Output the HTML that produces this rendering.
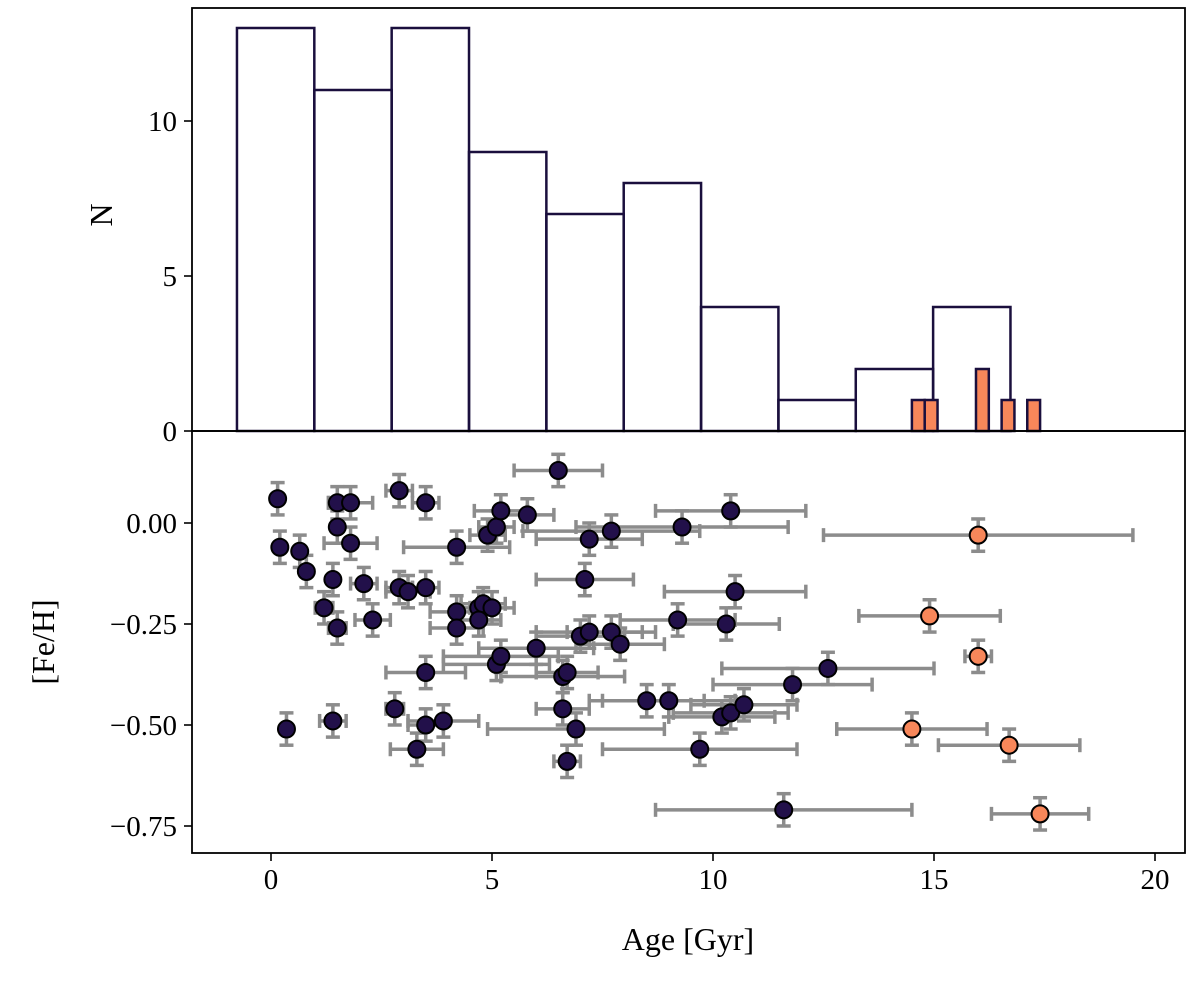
<!DOCTYPE html>
<html><head><meta charset="utf-8"><style>
body{margin:0;background:#fff}
svg text{font-family:"Liberation Serif",serif;fill:#000}
</style></head><body>
<svg id="c" width="1200" height="980" viewBox="0 0 1200 980"></svg>
<script>
const histCounts=[13,11,13,9,7,8,4,1,2,4];
const histStart=-0.77, histWidth=1.75;
const orangeCounts=[1,1,0,0,0,2,0,1,0,1];
const orangeStart=14.5, orangeWidth=0.29;
const ages=[0.15,0.2,0.65,0.8,1.2,1.4,1.5,1.5,1.8,1.8,1.5,2.1,2.3,2.9,2.9,3.1,3.5,3.5,3.5,0.35,1.4,2.8,3.5,3.9,3.3,4.2,4.2,4.2,4.7,4.8,4.7,5.0,4.9,5.1,5.2,5.8,5.1,5.2,6.0,6.5,6.6,6.6,6.7,6.9,6.7,7.0,7.2,7.1,7.2,7.7,7.7,7.9,8.5,9.0,9.2,9.3,9.7,10.4,10.5,10.3,10.2,10.4,10.7,11.8,11.6,12.6];
const feh=[0.06,-0.06,-0.07,-0.12,-0.21,-0.14,0.05,-0.01,0.05,-0.05,-0.26,-0.15,-0.24,0.08,-0.16,-0.17,0.05,-0.16,-0.37,-0.51,-0.49,-0.46,-0.50,-0.49,-0.56,-0.06,-0.22,-0.26,-0.21,-0.20,-0.24,-0.21,-0.03,-0.01,0.03,0.02,-0.35,-0.33,-0.31,0.13,-0.38,-0.46,-0.37,-0.51,-0.59,-0.28,-0.27,-0.14,-0.04,-0.02,-0.27,-0.30,-0.44,-0.44,-0.24,-0.01,-0.56,0.03,-0.17,-0.25,-0.48,-0.47,-0.45,-0.40,-0.71,-0.36];
const ageErr=[0.1,0,0.1,0.1,0.2,0.1,0.2,0,0.5,0.6,0.2,0.3,0.4,0.3,0.3,0.5,0.3,0.3,0.9,0,0.3,0.2,0.4,0.8,0.6,1.2,0.6,0.6,0.4,0.5,0.5,0.5,0.4,0.4,0.6,0.6,1.2,1.3,1.3,1.0,1.4,0.6,0.7,2.0,0.3,1.0,1.2,1.1,1.2,2.0,1.0,1.0,1.3,1.5,1.3,2.4,2.2,1.7,1.6,1.2,1.2,1.3,1.2,1.8,2.9,2.4];
const oAges=[16.0,14.9,16.0,14.5,16.7,17.4];
const oFeh=[-0.03,-0.23,-0.33,-0.51,-0.55,-0.72];
const oAgeErr=[3.5,1.6,0.3,1.7,1.6,1.1];
const fehErr=0.04;
const xTicks=[0,5,10,15,20];
const nTicks=[0,5,10];
const fTicks=[0,-0.25,-0.5,-0.75];
const fTickLabels=["0.00","\u22120.25","\u22120.50","\u22120.75"];

const L=192,R=1185,T=8,M=431,B=853;
const X=v=>271+v*44.2;
const YN=v=>431-v*31;
const YF=v=>523+(-v)*404;
const svg=document.getElementById('c');
const NS='http://www.w3.org/2000/svg';
function mk(tag,attrs,parent){const e=document.createElementNS(NS,tag);for(const k in attrs)e.setAttribute(k,attrs[k]);(parent||svg).appendChild(e);return e;}

// top histogram
const gh=mk('g',{});


histCounts.forEach((c,i)=>{const x0=X(histStart+i*histWidth);
 const r=mk('rect',{x:x0,y:YN(c),width:histWidth*44.2,height:YN(0)-YN(c),fill:'none',stroke:'#1a0f3d','stroke-width':2.5},gh);
 
 });
orangeCounts.forEach((c,i)=>{if(!c)return;const x0=X(orangeStart+i*orangeWidth);
 const r=mk('rect',{x:x0,y:YN(c),width:orangeWidth*44.2,height:YN(0)-YN(c),fill:'#f8875a',stroke:'#1a0f3d','stroke-width':2.5},gh);
 
 });

// frames
const f1=mk('rect',{x:L,y:T,width:R-L,height:M-T,fill:'none',stroke:'#000','stroke-width':1.8});

const f2=mk('rect',{x:L,y:M,width:R-L,height:B-M,fill:'none',stroke:'#000','stroke-width':1.8});


// ticks
nTicks.forEach(v=>{mk('line',{x1:L-8,x2:L,y1:YN(v),y2:YN(v),stroke:'#000','stroke-width':1.6});
 const t=mk('text',{x:L-15,y:YN(v)+10,'text-anchor':'end','font-size':29});t.textContent=v;
 });
fTicks.forEach((v,i)=>{mk('line',{x1:L-8,x2:L,y1:YF(v),y2:YF(v),stroke:'#000','stroke-width':1.6});
 const t=mk('text',{x:L-15,y:YF(v)+10,'text-anchor':'end','font-size':29});t.textContent=fTickLabels[i];
 });
xTicks.forEach(v=>{mk('line',{x1:X(v),x2:X(v),y1:B,y2:B+8,stroke:'#000','stroke-width':1.6});
 const t=mk('text',{x:X(v),y:B+36,'text-anchor':'middle','font-size':29});t.textContent=v;
 });

// labels
let t=mk('text',{x:688,y:950,'text-anchor':'middle','font-size':32});t.textContent='Age [Gyr]';

t=mk('text',{x:0,y:0,'text-anchor':'middle','font-size':32,transform:'translate(112,215) rotate(-90)'});t.textContent='N';

t=mk('text',{x:0,y:0,'text-anchor':'middle','font-size':32,transform:'translate(54,642) rotate(-90)'});t.textContent='[Fe/H]';


// scatter
function drawSet(A,F,E,fill,name){
 const g=mk('g',{});
 
 
 const eg=mk('g',{stroke:'#8c8c8c','stroke-width':3.5},g);
 A.forEach((a,i)=>{const x=X(a),y=YF(F[i]),x0=X(a-E[i]),x1=X(a+E[i]),y0=YF(F[i]+fehErr),y1=YF(F[i]-fehErr);
  if(E[i]>0){mk('line',{x1:x0,x2:x1,y1:y,y2:y},eg);mk('line',{x1:x0,x2:x0,y1:y-7,y2:y+7},eg);mk('line',{x1:x1,x2:x1,y1:y-7,y2:y+7},eg);}
  mk('line',{x1:x,x2:x,y1:y0,y2:y1},eg);mk('line',{x1:x-7,x2:x+7,y1:y0,y2:y0},eg);mk('line',{x1:x-7,x2:x+7,y1:y1,y2:y1},eg);});
 A.forEach((a,i)=>{const c=mk('circle',{cx:X(a),cy:YF(F[i]),r:8.5,fill:fill,stroke:'#000','stroke-width':2},g);
  
  });
}
drawSet(ages,feh,ageErr,'#22104a','dark-stars');
drawSet(oAges,oFeh,oAgeErr,'#f8875a','orange-stars');
</script>
</body></html>
